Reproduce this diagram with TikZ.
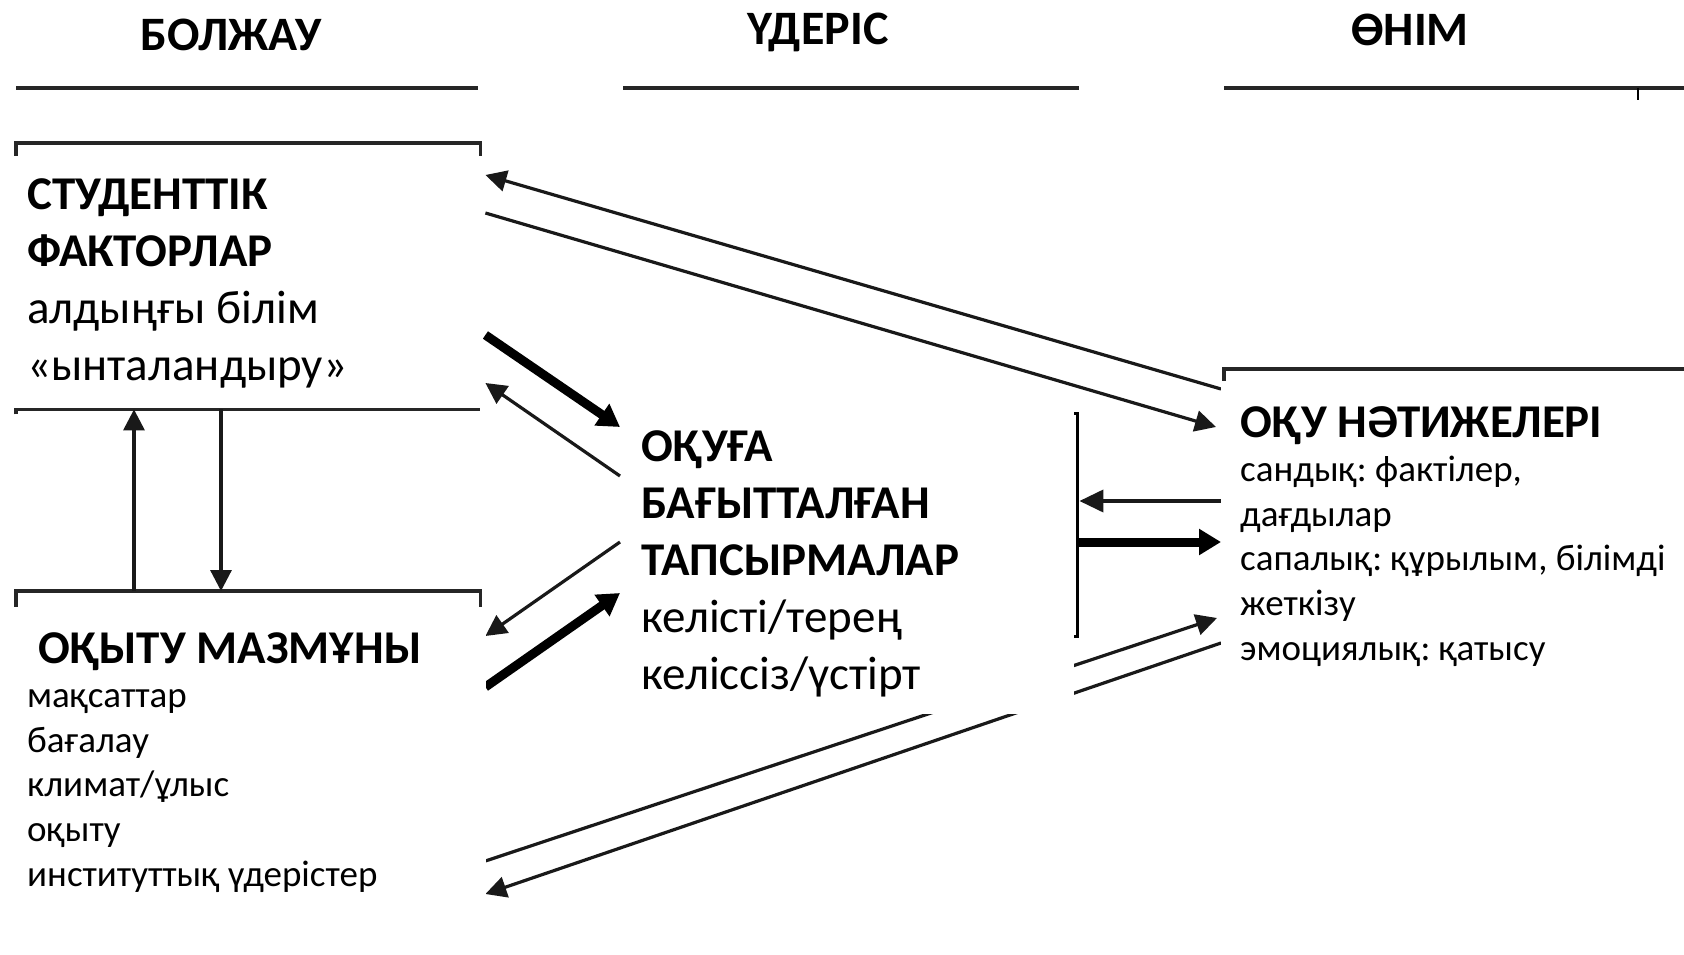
\documentclass[tikz,border=0pt]{standalone}
\usepackage{fontspec}
\setmainfont{Carlito}
\usetikzlibrary{arrows.meta,calc}
\pgfdeclarelayer{back}
\pgfdeclarelayer{bg}
\pgfsetlayers{back,bg,main}
\tikzset{
  whitebox/.style={fill=white, draw=none, inner sep=0pt, anchor=north west},
  txt/.style={anchor=base west, inner sep=0pt, align=flush left, text width=460pt},
  bigtxt/.style={txt, font=\fontsize{47}{57}\selectfont\frenchspacing},
  smalltxt/.style={txt, font=\fontsize{37}{44.6}\selectfont\frenchspacing},
  head/.style={font=\fontsize{48}{58}\selectfont\bfseries, inner sep=0pt},
  rule/.style={line width=3.5pt, color=black!85},
  thinarr/.style={line width=3.2pt, color=black!90, -{Triangle[length=21pt,width=21pt]}},
  medarr/.style={line width=3.8pt, color=black!90, -{Triangle[length=24pt,width=22pt]}},
  thickarr/.style={line width=9pt, color=black, -{Triangle[length=22pt,width=25pt]}},
}
\begin{document}
\begin{tikzpicture}[x=1pt,y=-1pt]
\useasboundingbox (0,0) rectangle (1684,955);
\begin{pgfonlayer}{back}
\fill[white] (0,0) rectangle (1684,955);
\end{pgfonlayer}

% headings
\node[head] (h1) at (231,35) {БОЛЖАУ};
\node[head] (h2) at (818,32) {ҮДЕРІС};
\node[head] (h3) at (1410,30) {ӨНІМ};

% white boxes
\node[whitebox, minimum width=472pt, minimum height=250pt] (s1) at (11,156) {};
\node[whitebox, minimum width=475pt, minimum height=348pt] (s2) at (11,607) {};
\node[whitebox, minimum width=453pt, minimum height=303pt] (s3) at (621,411) {};
\node[whitebox, minimum width=463pt, minimum height=301pt] (s4) at (1221,381) {};

% texts
\node[bigtxt] (t1) at (27,209) {\textbf{СТУДЕНТТІК}\\\textbf{ФАКТОРЛАР}\\алдыңғы білім\\«ынталандыру»};
\node[smalltxt] (t2) at (27,663) {{\fontsize{47}{44.6}\selectfont\bfseries\hspace*{11pt}ОҚЫТУ МАЗМҰНЫ}\\мақсаттар\\бағалау\\климат/ұлыс\\оқыту\\институттық үдерістер};
\node[bigtxt] (t3) at (641,461) {\textbf{ОҚУҒА}\\\textbf{БАҒЫТТАЛҒАН}\\\textbf{ТАПСЫРМАЛАР}\\келісті/терең\\келіссіз/үстірт};
\node[smalltxt] (t4) at (1240,437) {{\fontsize{47}{44.6}\selectfont\bfseries ОҚУ НӘТИЖЕЛЕРІ}\\сандық: фактілер,\\дағдылар\\сапалық: құрылым, білімді\\жеткізу\\эмоциялық: қатысу};

\begin{pgfonlayer}{bg}
% heading rules
\draw[rule] (16,88) -- (478,88);
\draw[rule] (623,88) -- (1079,88);
\draw[rule] (1224,88) -- (1684,88);
\draw[line width=2pt] (1638,88) -- (1638,100);
% box frames
\draw[rule] ($(s1.north west)+(5,0)$) -- ($(s1.north west)+(5,-13)$) -- ($(s1.north east)+(-3,-13)$) -- ($(s1.north east)+(-3,0)$);
\draw[rule] ($(s1.south west)+(5,8)$) -- ($(s1.south west)+(5,3)$) -- ($(s1.south east)+(-3,3)$);
\draw[rule] ($(s2.north west)+(5,0)$) -- ($(s2.north west)+(5,-16)$) -- ($(s2.north east)+(-6,-16)$) -- ($(s2.north east)+(-6,0)$);
\draw[line width=3pt] ($(s3.north east)+(-6,2)$) -- ($(s3.north east)+(3,2)$) -- ($(s3.north east)+(3,225)$) -- ($(s3.north east)+(-4,225)$);
\draw[rule] ($(s4.north west)+(3,0)$) -- ($(s4.north west)+(3,-12)$) -- ($(s4.north east)+(0,-12)$);

% vertical arrows
\draw[thinarr] ($(s2.north west)+(123,-16)$) -- ($(s1.south west)+(123,3)$);
\draw[thinarr] ($(s1.south west)+(210,3)$) -- ($(s2.north west)+(210,-16)$);

% diagonal arrows
\draw[thinarr] ($(s4.north west)+(0,8)$) -- ($(s1.north east)+(2,19)$);
\draw[thinarr] ($(s1.north east)+(2,57)$) -- ($(s4.north west)+(-5,46)$);
\draw[thickarr] ($(s1.north east)+(2,179)$) -- ($(s3.north west)+(-1,16)$);
\draw[thinarr] ($(s3.north west)+(-1,65)$) -- ($(s1.north east)+(2,227)$);
\draw[thinarr] ($(s3.north west)+(-1,131)$) -- ($(s2.north east)+(-1,29)$);
\draw[thickarr] ($(s2.north east)+(-1,80)$) -- ($(s3.north west)+(-1,182)$);
\draw[medarr] ($(s4.north west)+(0,120)$) -- ($(s3.north east)+(5,90)$);
\draw[thickarr] ($(s3.north east)+(3,131)$) -- ($(s4.north west)+(0,161)$);
\draw[thinarr] ($(s2.north east)+(-1,254)$) -- ($(s4.north west)+(-4,237)$);
\draw[thinarr] ($(s4.north west)+(0,262)$) -- ($(s2.north east)+(-1,287)$);
\end{pgfonlayer}
\end{tikzpicture}
\end{document}
